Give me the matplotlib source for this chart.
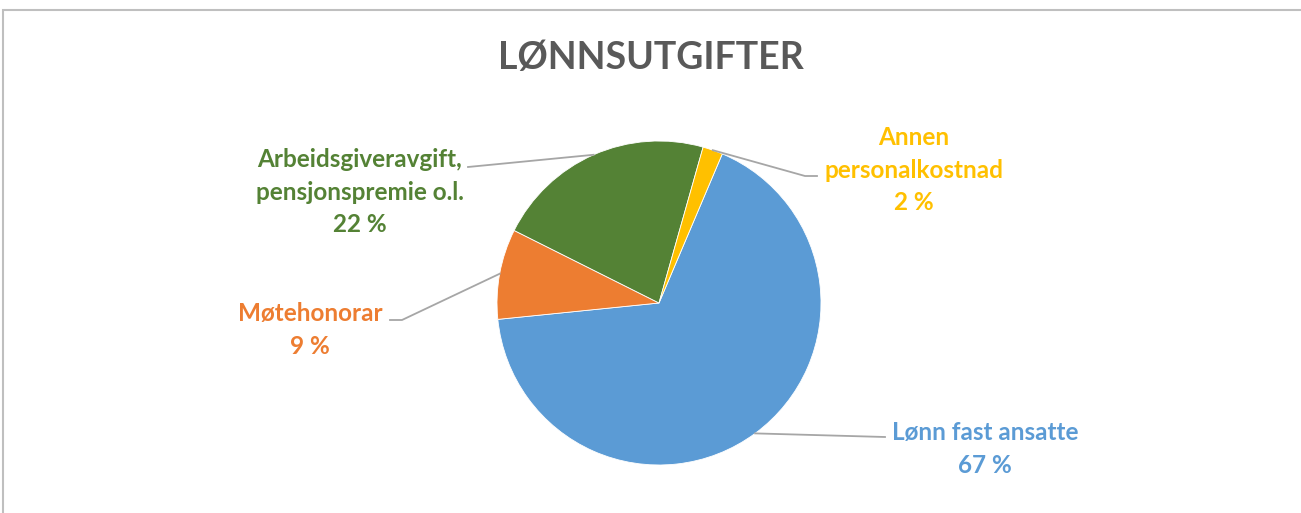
import matplotlib.pyplot as plt
import numpy as np
from matplotlib.patches import Rectangle

# data
labels = ["Lønn fast ansatte", "Møtehonorar", "Arbeidsgiveravgift,\npensjonspremie o.l.", "Annen\npersonalkostnad"]
values = [67, 9, 22, 2]
colors = ["#5B9BD5", "#ED7D31", "#548235", "#FFC000"]
title = "LØNNSUTGIFTER"

plt.rcParams['font.family'] = ['Lato', 'DejaVu Sans']

W, H = 1301, 513
fig = plt.figure(figsize=(W / 100, H / 100), dpi=100)

# chart frame
fig.patches.append(Rectangle((3 / W, -0.1), 1.1, 1 - 10 / H + 0.1, transform=fig.transFigure,
                             fill=False, edgecolor="#BFBFBF", linewidth=1.5))

cx, cy, r = 659, 303, 162
ax = fig.add_axes([(cx - r) / W, (H - cy - r) / H, 2 * r / W, 2 * r / H])
start = 90 - 23
wedges, _ = ax.pie(values, colors=colors, startangle=start, counterclock=False,
                   radius=1, wedgeprops=dict(linewidth=0.6, edgecolor="white"))
ax.set_xlim(-1, 1)
ax.set_ylim(-1, 1)
ax.set_aspect('equal')
ax.axis('off')

fig.text(0.5, 1 - 58 / H, title, ha='center', va='center', fontsize=27,
         fontweight='bold', color="#595959")

# label positions in pixels (text center) and line end
label_pos = [(985, 449), (310, 330), (360, 192), (914, 170)]
line_end = [(885, 437), (390, 320), (468, 167), (817, 176)]
elbow = [None, (402, 320), None, (805, 176)]

def to_fig(p):
    return (p[0] / W, 1 - p[1] / H)

tot = sum(values)
cum = 0
for i, v in enumerate(values):
    mid = start - (cum + v / 2) / tot * 360
    cum += v
    a = np.deg2rad(mid)
    px = cx + r * np.cos(a)
    py = cy - r * np.sin(a)
    pts = [(px, py)]
    if elbow[i] is not None:
        pts.append(elbow[i])
    pts.append(line_end[i])
    xs = [p[0] / W for p in pts]
    ys = [1 - p[1] / H for p in pts]
    fig.add_artist(plt.Line2D(xs, ys, transform=fig.transFigure, color="#A6A6A6", linewidth=1.3))
    txt = f"{labels[i]}\n{v} %"
    fig.text(*to_fig(label_pos[i]), txt, ha='center', va='center', fontsize=17.5,
             fontweight='bold', color=colors[i], linespacing=1.5)

fig.savefig("out.png", dpi=100)
